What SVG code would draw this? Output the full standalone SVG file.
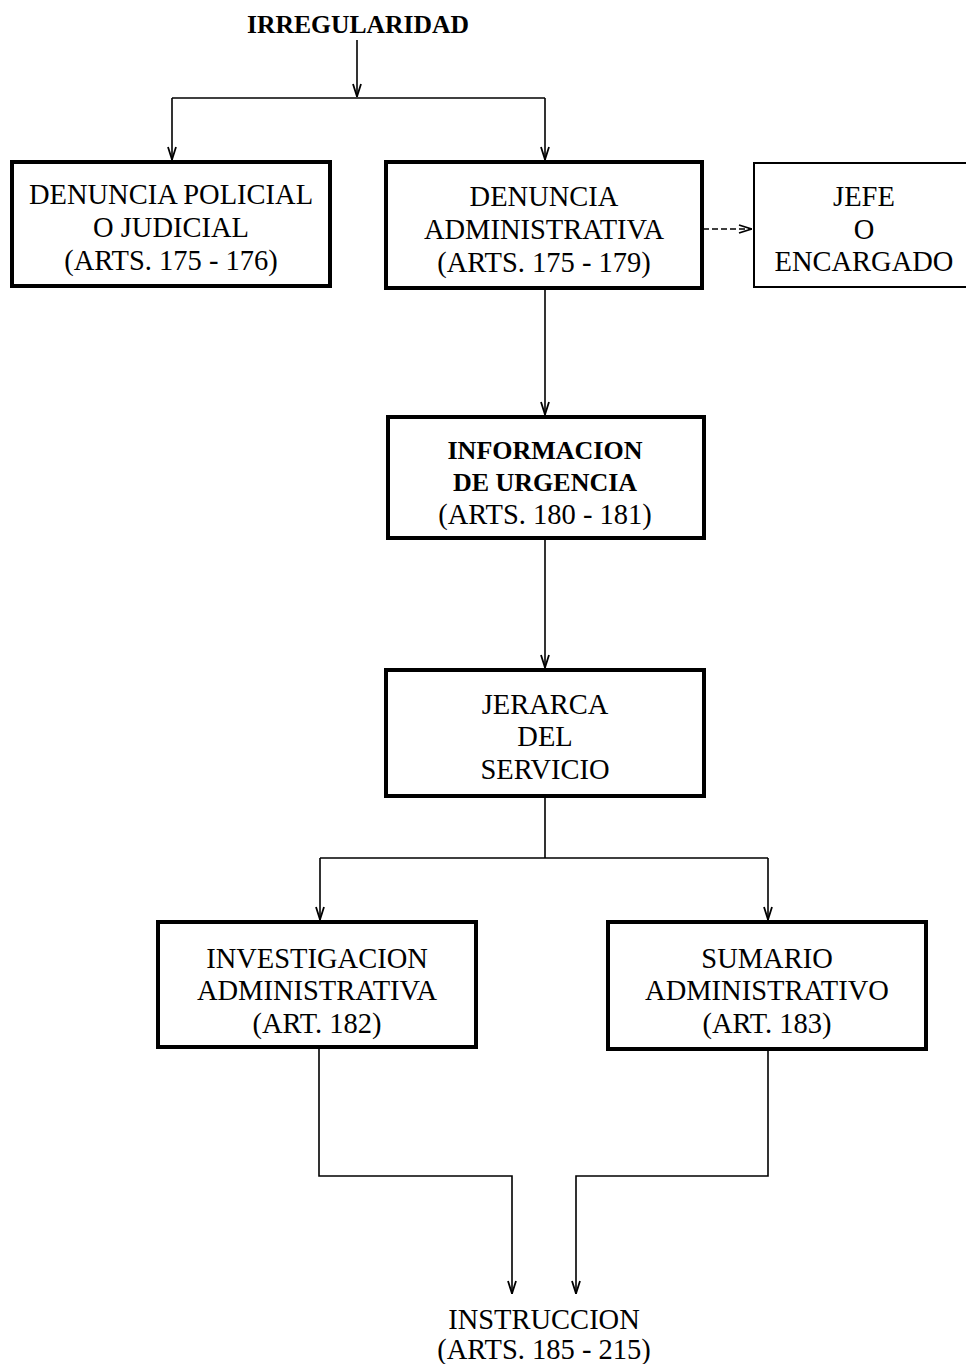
<svg xmlns="http://www.w3.org/2000/svg" width="966" height="1364" viewBox="0 0 966 1364">
<defs>
<marker id="arr" viewBox="0 0 14 10" refX="14" refY="5" markerWidth="14" markerHeight="10" markerUnits="userSpaceOnUse" orient="auto">
<path d="M1,1 L13.5,5 L1,9" fill="none" stroke="#000" stroke-width="1.8"/>
</marker>
<style>
.box{fill:#fff;stroke:#000;stroke-width:4}
.thin{fill:#fff;stroke:#000;stroke-width:2}
.t{font-family:"Liberation Serif","Times New Roman",serif;font-size:28.5px;text-anchor:middle;fill:#000}
.b{font-weight:bold;font-size:26px}
.h{font-weight:bold;font-size:26px}
.c{fill:none;stroke:#000;stroke-width:1.6}
</style>
</defs>
<rect width="966" height="1364" fill="#fff"/>
<g id="connectors">
<path class="c" d="M357,40 V97" marker-end="url(#arr)"/>
<path class="c" d="M172,98 H545"/>
<path class="c" d="M172,98 V160" marker-end="url(#arr)"/>
<path class="c" d="M545,98 V160" marker-end="url(#arr)"/>
<path class="c" d="M703,229 H752" stroke-dasharray="6,3" marker-end="url(#arr)"/>
<path class="c" d="M545,288 V415" marker-end="url(#arr)"/>
<path class="c" d="M545,538 V668" marker-end="url(#arr)"/>
<path class="c" d="M545,796 V858 M320,858 H768"/>
<path class="c" d="M320,858 V920" marker-end="url(#arr)"/>
<path class="c" d="M768,858 V920" marker-end="url(#arr)"/>
<path class="c" d="M319,1047 V1176 H512 V1294" marker-end="url(#arr)"/>
<path class="c" d="M768,1049 V1176 H576 V1294" marker-end="url(#arr)"/>
</g>
<g id="irregularidad">
<text class="t h" x="358" y="33" textLength="222" lengthAdjust="spacingAndGlyphs">IRREGULARIDAD</text>
</g>
<g id="denuncia-policial">
<rect class="box" x="12" y="162" width="318" height="124"/>
<text class="t" x="171" y="204">DENUNCIA POLICIAL</text>
<text class="t" x="171" y="237">O JUDICIAL</text>
<text class="t" x="171" y="270">(ARTS. 175 - 176)</text>
</g>
<g id="denuncia-administrativa">
<rect class="box" x="386" y="162" width="316" height="126"/>
<text class="t" x="544" y="206">DENUNCIA</text>
<text class="t" x="544" y="239">ADMINISTRATIVA</text>
<text class="t" x="544" y="272">(ARTS. 175 - 179)</text>
</g>
<g id="jefe">
<rect class="thin" x="754" y="163" width="230" height="124"/>
<text class="t" x="864" y="206">JEFE</text>
<text class="t" x="864" y="239">O</text>
<text class="t" x="864" y="271">ENCARGADO</text>
</g>
<g id="informacion">
<rect class="box" x="388" y="417" width="316" height="121"/>
<text class="t b" x="545" y="459">INFORMACION</text>
<text class="t b" x="545" y="491">DE URGENCIA</text>
<text class="t" x="545" y="524">(ARTS. 180 - 181)</text>
</g>
<g id="jerarca">
<rect class="box" x="386" y="670" width="318" height="126"/>
<text class="t" x="545" y="714">JERARCA</text>
<text class="t" x="545" y="746">DEL</text>
<text class="t" x="545" y="779">SERVICIO</text>
</g>
<g id="investigacion">
<rect class="box" x="158" y="922" width="318" height="125"/>
<text class="t" x="317" y="968">INVESTIGACION</text>
<text class="t" x="317" y="1000">ADMINISTRATIVA</text>
<text class="t" x="317" y="1033">(ART. 182)</text>
</g>
<g id="sumario">
<rect class="box" x="608" y="922" width="318" height="127"/>
<text class="t" x="767" y="968">SUMARIO</text>
<text class="t" x="767" y="1000">ADMINISTRATIVO</text>
<text class="t" x="767" y="1033">(ART. 183)</text>
</g>
<g id="instruccion">
<text class="t" x="544" y="1329">INSTRUCCION</text>
<text class="t" x="544" y="1359">(ARTS. 185 - 215)</text>
</g>
</svg>
